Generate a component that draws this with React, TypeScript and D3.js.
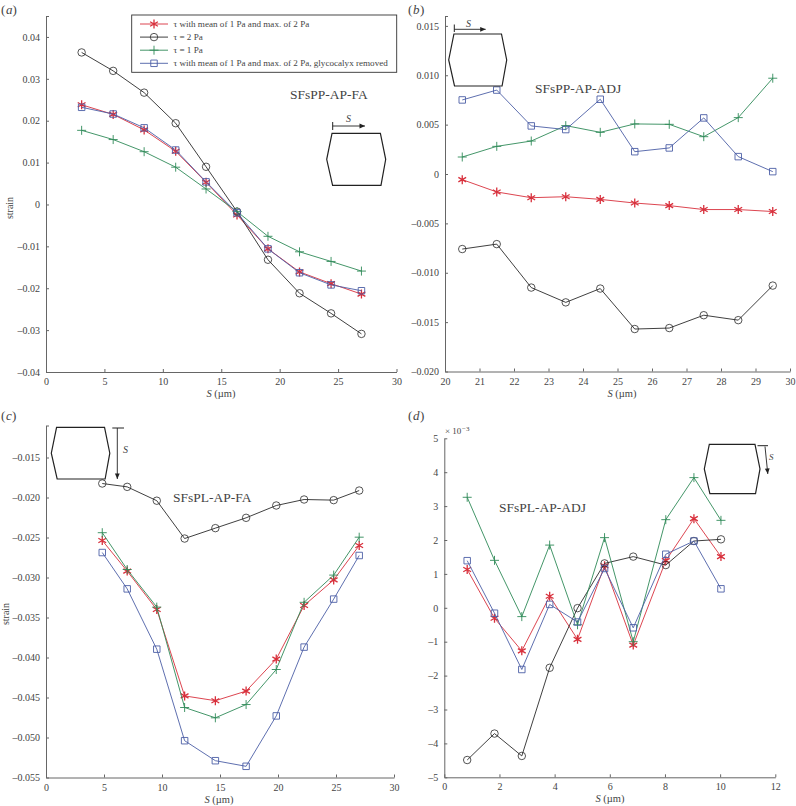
import React, { useEffect, useRef } from "react";
import * as d3 from "d3";

const legendLabels = [
  "τ with mean of 1 Pa and max. of 2 Pa",
  "τ = 2 Pa",
  "τ = 1 Pa",
  "τ with mean of 1 Pa and max. of 2 Pa, glycocalyx removed",
];

// panel a
const aX = [3.05, 5.75, 8.4, 11.1, 13.7, 16.35, 19.0, 21.7, 24.4, 27.0];
const aRed = [0.0238, 0.0215, 0.0178, 0.0127, 0.0053, -0.0025, -0.0106, -0.0161, -0.0189, -0.0214];
const aBlack = [0.0363, 0.0319, 0.0267, 0.0194, 0.009, -0.0017, -0.0132, -0.0212, -0.026, -0.0309];
const aGreen = [0.0177, 0.0155, 0.0126, 0.0089, 0.0037, -0.0017, -0.0076, -0.0113, -0.0136, -0.0159];
const aBlue = [0.0232, 0.0216, 0.0183, 0.013, 0.0054, -0.002, -0.0106, -0.0163, -0.0192, -0.0206];

// panel b
const bX = [20.5, 21.5, 22.5, 23.5, 24.5, 25.5, 26.5, 27.5, 28.5, 29.5];
const bRed = [-0.00057, -0.00182, -0.0024, -0.0023, -0.00257, -0.00294, -0.0032, -0.0036, -0.0036, -0.0038];
const bBlack = [-0.0076, -0.0071, -0.0115, -0.013, -0.0116, -0.0157, -0.0156, -0.0143, -0.0148, -0.0113];
const bGreen = [0.00172, 0.0028, 0.00334, 0.0049, 0.00422, 0.00507, 0.00503, 0.00378, 0.00571, 0.0097];
const bBlue = [0.0075, 0.0085, 0.00487, 0.0045, 0.00757, 0.00226, 0.00264, 0.00568, 0.00176, 0.00024];

// panel c
const cX = [4.85, 7.0, 9.55, 11.95, 14.6, 17.25, 19.85, 22.25, 24.8, 27.0];
const cRed = [-0.02537, -0.0292, -0.034, -0.0448, -0.0454, -0.0442, -0.0402, -0.0335, -0.0303, -0.026];
const cBlack = [-0.01825, -0.01867, -0.0204, -0.02513, -0.02383, -0.02254, -0.021, -0.02025, -0.02033, -0.01913];
const cGreen = [-0.0244, -0.029, -0.0337, -0.04625, -0.04754, -0.04588, -0.0415, -0.0331, -0.0297, -0.02496];
const cBlue = [-0.02688, -0.03142, -0.03896, -0.0504, -0.0529, -0.0536, -0.0473, -0.0387, -0.0327, -0.02725];

// panel d
const dX = [0.83, 1.82, 2.81, 3.82, 4.83, 5.81, 6.85, 8.03, 9.05, 10.03];
const dRed = [1.13, -0.31, -1.27, 0.34, -0.93, 1.24, -1.1, 1.39, 2.63, 1.51];
const dBlack = [-4.49, -3.71, -4.37, -1.77, -0.01, 1.31, 1.51, 1.26, 1.97, 2.02];
const dGreen = [3.26, 1.4, -0.26, 1.85, -0.5, 2.07, -1.0, 2.6, 3.84, 2.58];
const dBlue = [1.39, -0.16, -1.82, 0.1, -0.42, 1.16, -0.59, 1.58, 1.97, 0.56];

const colors = ["#d8303c", "#2a2a2a", "#2f8a58", "#4c5fa6"];
const textColor = "#444";
const axisColor = "#666";
const serif = "'Liberation Serif', serif";

const starPath = (r: number) =>
  d3
    .range(3)
    .map((i) => {
      const a = Math.PI / 2 + (i * Math.PI) / 3;
      const dx = r * Math.cos(a);
      const dy = r * Math.sin(a);
      return `M${-dx},${-dy}L${dx},${dy}`;
    })
    .join("");

const plusPath = (r: number) => `M${-r},0L${r},0M0,${-r}L0,${r}`;

// marker per series, same order as the legend
const drawMarker = (g: any, i: number, x: number, y: number) => {
  const m = g.append("path").attr("transform", `translate(${x},${y})`).attr("fill", "none");
  if (i === 0) m.attr("d", starPath(4.5)).attr("stroke", colors[0]).attr("stroke-width", 1.3);
  if (i === 1) m.attr("d", d3.symbol(d3.symbolCircle, 44)()).attr("stroke", colors[1]).attr("stroke-width", 0.8);
  if (i === 2) m.attr("d", plusPath(4.5)).attr("stroke", colors[2]).attr("stroke-width", 0.9);
  if (i === 3) m.attr("d", d3.symbol(d3.symbolSquare, 42)()).attr("stroke", colors[3]).attr("stroke-width", 0.9);
};

const label = (g: any, x: number, y: number, s: string, size = 10, italic = false) =>
  g
    .append("text")
    .attr("x", x)
    .attr("y", y)
    .attr("font-family", serif)
    .attr("font-size", size)
    .attr("font-style", italic ? "italic" : "normal")
    .attr("fill", textColor)
    .text(s);

const hexagon = (g: any, w: number, h: number) => {
  const pts: [number, number][] = [
    [0.09 * w, 0],
    [0.91 * w, 0],
    [w, h / 2],
    [0.92 * w, h],
    [0.1 * w, h],
    [0, h / 2],
  ];
  g.append("path")
    .attr("d", d3.line()(pts) + "Z")
    .attr("fill", "none")
    .attr("stroke", "#222")
    .attr("stroke-width", 1.2);
};

const arrow = (g: any, x1: number, y1: number, x2: number, y2: number) => {
  g.append("line")
    .attr("x1", x1)
    .attr("y1", y1)
    .attr("x2", x2)
    .attr("y2", y2)
    .attr("stroke", "#222")
    .attr("stroke-width", 0.9);
  const a = Math.atan2(y2 - y1, x2 - x1);
  g.append("path")
    .attr("d", "M0,0L-5.5,-2.4L-5.5,2.4Z")
    .attr("fill", "#222")
    .attr("transform", `translate(${x2},${y2}) rotate(${(a * 180) / Math.PI})`);
};

const fmt = (d: number, digits: number) => {
  if (d === 0) return "0";
  const s = d3.format(`.${digits}f`)(Math.abs(d));
  return d < 0 ? "–" + s : s;
};

const App: React.FC = () => {
  const svgRef = useRef<SVGSVGElement>(null);

  useEffect(() => {
    const svg = d3.select(svgRef.current);
    svg.selectAll("*").remove();

    const panel = (
      xs: number[],
      series: number[][],
      xDomain: [number, number],
      xRange: [number, number],
      yDomain: [number, number],
      yRange: [number, number],
      xTicks: number[],
      yTicks: number[],
      digits: number
    ) => {
      const g = svg.append("g");
      const x = d3.scaleLinear().domain(xDomain).range(xRange);
      const y = d3.scaleLinear().domain(yDomain).range(yRange);

      const xAxis = d3.axisBottom(x).tickValues(xTicks).tickSize(-3).tickSizeOuter(0).tickPadding(6).tickFormat((d) => String(d));
      // the top of the y axis carries a small unlabelled tick
      const yAxis = d3
        .axisLeft(y)
        .tickValues(Array.from(new Set([...yTicks, yDomain[1]])))
        .tickSize(-3)
        .tickSizeOuter(0)
        .tickPadding(6)
        .tickFormat((d) => (yTicks.includes(+d) ? fmt(+d, digits) : ""));

      [
        g.append("g").attr("transform", `translate(0,${yRange[0]})`).call(xAxis),
        g.append("g").attr("transform", `translate(${xRange[0]},0)`).call(yAxis),
      ].forEach((a) => {
        a.select(".domain").attr("stroke", axisColor);
        a.selectAll(".tick line").attr("stroke", axisColor);
        a.selectAll(".tick text").attr("font-family", serif).attr("font-size", 10).attr("fill", textColor);
      });

      const line = d3
        .line<number>()
        .x((_, i) => x(xs[i]))
        .y((d) => y(d));

      series.forEach((values, i) => {
        g.append("path")
          .attr("d", line(values))
          .attr("fill", "none")
          .attr("stroke", colors[i])
          .attr("stroke-width", 0.9);
        values.forEach((v, j) => drawMarker(g, i, x(xs[j]), y(v)));
      });
      return g;
    };

    const a = panel(aX, [aRed, aBlack, aGreen, aBlue], [0, 30], [46, 396.5], [-0.04, 0.045], [372, 16], d3.range(0, 31, 5), [-0.04, -0.03, -0.02, -0.01, 0, 0.01, 0.02, 0.03, 0.04], 2);
    const b = panel(bX, [bRed, bBlack, bGreen, bBlue], [20, 30], [445, 790], [-0.02, 0.016], [371.5, 16], d3.range(20, 31), [-0.02, -0.015, -0.01, -0.005, 0, 0.005, 0.01, 0.015], 3);
    const c = panel(cX, [cRed, cBlack, cGreen, cBlue], [0, 30], [46, 394], [-0.055, -0.011], [777.5, 425.5], d3.range(0, 31, 5), [-0.055, -0.05, -0.045, -0.04, -0.035, -0.03, -0.025, -0.02, -0.015], 3);
    const d = panel(dX, [dRed, dBlack, dGreen, dBlue], [0, 12], [444.3, 775.3], [-5, 5], [777.3, 438.3], d3.range(0, 13, 2), d3.range(-5, 6), 0);

    // panel letters
    label(a, 1, 14, "(", 13);
    label(a, 6, 14, "a", 13, true);
    label(a, 12.5, 14, ")", 13);
    label(b, 408, 14, "(", 13);
    label(b, 413, 14, "b", 13, true);
    label(b, 420, 14, ")", 13);
    label(c, 1, 420, "(", 13);
    label(c, 6, 420, "c", 13, true);
    label(c, 12, 420, ")", 13);
    label(d, 408, 420, "(", 13);
    label(d, 413, 420, "d", 13, true);
    label(d, 420, 420, ")", 13);

    // axis titles
    const sLabel = (g: any, cx: number, yy: number) => {
      const t = label(g, cx, yy, "", 10.5).attr("text-anchor", "middle");
      t.append("tspan").attr("font-style", "italic").text("S");
      t.append("tspan").text(" (µm)");
    };
    sLabel(a, 221, 397);
    sLabel(b, 622, 397);
    sLabel(c, 219, 803);
    sLabel(d, 610, 802);
    label(a, 0, 0, "strain", 10)
      .attr("text-anchor", "middle")
      .attr("x", null)
      .attr("y", null)
      .attr("transform", "translate(13,208) rotate(-90)");
    label(c, 0, 0, "strain", 10)
      .attr("text-anchor", "middle")
      .attr("x", null)
      .attr("y", null)
      .attr("transform", "translate(9,614) rotate(-90)");

    // panel titles
    label(a, 290, 99, "SFsPP-AP-FA", 13.5);
    label(b, 535, 93, "SFsPP-AP-ADJ", 13.5);
    label(c, 173, 502, "SFsPL-AP-FA", 13.5);
    label(d, 499, 512, "SFsPL-AP-ADJ", 13.5);

    // x 10^-3
    label(d, 445, 434, "× 10", 9);
    label(d, 462, 431, "−3", 7);

    // cell sketches
    const ia = a.append("g").attr("transform", "translate(326.7,133.3)");
    hexagon(ia, 59, 52);
    arrow(a, 332.7, 126, 365, 126);
    a.append("line").attr("x1", 332.7).attr("x2", 332.7).attr("y1", 122).attr("y2", 130).attr("stroke", "#222");
    label(a, 346, 122, "S", 10, true);

    const ib = b.append("g").attr("transform", "translate(448.7,34)");
    hexagon(ib, 58, 52);
    arrow(b, 454.3, 29.3, 485.7, 29.3);
    b.append("line").attr("x1", 454.3).attr("x2", 454.3).attr("y1", 24.5).attr("y2", 32).attr("stroke", "#222");
    label(b, 466, 27, "S", 10, true);

    const ic = c.append("g").attr("transform", "translate(51.3,427.3)");
    hexagon(ic, 58.5, 51.7);
    arrow(c, 117.3, 428, 117.3, 479);
    c.append("line").attr("x1", 112.3).attr("x2", 124).attr("y1", 428).attr("y2", 428).attr("stroke", "#222");
    label(c, 123, 453, "S", 10, true);

    const id = d.append("g").attr("transform", "translate(704.3,444.3)");
    hexagon(id, 55.7, 49.3);
    arrow(d, 765, 446.5, 767.8, 474);
    d.append("line").attr("x1", 757.5).attr("x2", 768).attr("y1", 445.7).attr("y2", 445.7).attr("stroke", "#222");
    label(d, 769, 460, "S", 9, true);

    // legend
    const legend = a.append("g");
    legend
      .append("rect")
      .attr("x", 131.7)
      .attr("y", 15)
      .attr("width", 265)
      .attr("height", 57.3)
      .attr("fill", "#fff")
      .attr("stroke", "#333")
      .attr("stroke-width", 0.9);
    const legendY = d3.scalePoint<string>().domain(legendLabels).range([24, 63.3]);
    legendLabels.forEach((t, i) => {
      const ly = legendY(t) as number;
      legend
        .append("line")
        .attr("x1", 140)
        .attr("x2", 168)
        .attr("y1", ly)
        .attr("y2", ly)
        .attr("stroke", colors[i])
        .attr("stroke-width", 0.9);
      drawMarker(legend, i, 154, ly);
      label(legend, 173.5, ly + 3, t, 9.1);
    });
  });

  return (
    <svg
      ref={svgRef}
      width={796}
      height={806}
      style={{ position: "absolute", left: 0, top: 0, background: "#fff" }}
    ></svg>
  );
};

export default App;
